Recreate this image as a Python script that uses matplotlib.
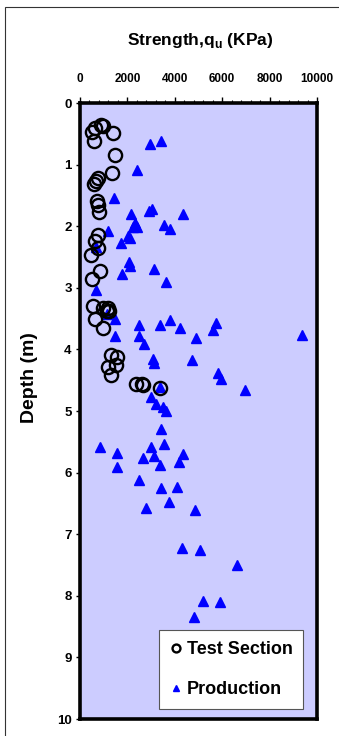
import matplotlib
matplotlib.use("Agg")
import matplotlib.pyplot as plt
from matplotlib.ticker import MultipleLocator
from matplotlib.patches import Rectangle

plt.rcParams['font.family'] = ['Liberation Sans', 'DejaVu Sans']
plt.rcParams['font.weight'] = 'bold'
plt.rcParams['mathtext.fontset'] = 'custom'
plt.rcParams['mathtext.bf'] = 'Liberation Sans:bold'
plt.rcParams['mathtext.rm'] = 'Liberation Sans:bold'

# test section: strength (kPa), depth (m)
test_q = [491, 632, 983, 900, 1376, 604, 1474, 1334, 744, 674, 604, 730, 772, 800,
          772, 632, 772, 449, 842, 519, 562, 955, 1193, 1123, 1235, 632, 983,
          1292, 1544, 1516, 1193, 1292, 2359, 2597, 2668, 3370]
test_z = [0.47, 0.41, 0.38, 0.36, 0.49, 0.61, 0.84, 1.14, 1.22, 1.27, 1.32, 1.59, 1.65, 1.77,
          2.14, 2.24, 2.35, 2.46, 2.73, 2.85, 3.30, 3.32, 3.32, 3.38, 3.38, 3.50, 3.66,
          4.09, 4.12, 4.25, 4.29, 4.42, 4.56, 4.56, 4.58, 4.62]

# production
prod_q = [2948, 3398, 2387, 1446, 2148, 2920, 3047, 4352, 2317, 2359, 2415, 2246, 1193,
          3538, 3791, 2036, 2106, 1727, 674, 2078, 2106, 1783, 3131, 3637, 674,
          1123, 1474, 2471, 3370, 3791, 4240, 5616, 5756, 4914, 1474, 2471, 9378, 2696,
          3089, 3103, 4717, 5826, 5967, 6964, 3370, 3005, 3187, 3482, 3622, 3412, 3524,
          856, 3005, 1572, 3117, 2668, 4352, 4184, 1544, 3370, 2499, 3398, 4100, 3735,
          2766, 4844, 4310, 5054, 6641, 5195, 5897, 4830]
prod_z = [0.66, 0.61, 1.08, 1.54, 1.80, 1.75, 1.72, 1.80, 1.94, 2.00, 2.01, 2.02, 2.07,
          1.98, 2.04, 2.16, 2.19, 2.28, 2.34, 2.58, 2.65, 2.78, 2.70, 2.91, 3.03,
          3.43, 3.50, 3.61, 3.61, 3.52, 3.66, 3.68, 3.57, 3.81, 3.78, 3.78, 3.76, 3.92,
          4.16, 4.22, 4.17, 4.38, 4.48, 4.66, 4.61, 4.78, 4.89, 4.93, 5.00, 5.29, 5.53,
          5.58, 5.58, 5.68, 5.73, 5.76, 5.70, 5.83, 5.91, 5.88, 6.12, 6.25, 6.24, 6.48,
          6.57, 6.60, 7.23, 7.26, 7.50, 8.08, 8.10, 8.34]

W, H = 339, 736
fig = plt.figure(figsize=(W / 100, H / 100), dpi=100, facecolor='white')
ax = fig.add_axes([80 / W, 1 - 719 / H, 237 / W, 616 / H])
ax.set_facecolor('#CCCCFF')

ax.plot(prod_q, prod_z, linestyle='none', marker='^', ms=7, color='#0000FF',
        mec='#0000FF', label='Production', zorder=3)
ax.plot(test_q, test_z, linestyle='none', marker='o', ms=9.5, mfc='none', mec='black',
        mew=1.7, label='Test Section', zorder=4)

ax.set_xlim(0, 10000)
ax.set_ylim(10, 0)
ax.xaxis.tick_top()
ax.xaxis.set_major_locator(MultipleLocator(2000))
ax.xaxis.set_minor_locator(MultipleLocator(400))
ax.yaxis.set_major_locator(MultipleLocator(1))
ax.tick_params(axis='x', which='major', direction='out', length=4, width=1, labelsize=8.5, pad=9)
ax.tick_params(axis='x', which='minor', direction='out', length=2.5, width=0.8)
ax.tick_params(axis='y', which='major', direction='out', length=3, width=1, labelsize=9.5, pad=3)
for lab in ax.get_xticklabels() + ax.get_yticklabels():
    lab.set_fontweight('bold')
for sp in ax.spines.values():
    sp.set_linewidth(2.6)
    sp.set_color('black')

h, l = ax.get_legend_handles_labels()
leg = ax.legend(h[::-1], l[::-1], loc='lower right', bbox_to_anchor=(0.942, 0.016),
                borderaxespad=0, fontsize=13, frameon=True, fancybox=False,
                edgecolor='#555555', facecolor='white', framealpha=1, handletextpad=0.3,
                borderpad=0.6, labelspacing=1.3, handlelength=0.6, markerscale=0.6)
leg.get_frame().set_linewidth(0.8)
for t in leg.get_texts():
    t.set_fontweight('bold')

fig.text(200 / W, 1 - 40 / H, 'Strength,q$_{\\mathbf{u}}$ (KPa)', ha='center', va='center',
         fontsize=12.5, fontweight='bold')
fig.text(30 / W, 1 - 378 / H, 'Depth (m)', ha='center', va='center', rotation=90,
         fontsize=14, fontweight='bold')

fig.patches.append(Rectangle((5 / W, -0.1), 1.2, 1 - 7 / H + 0.1, transform=fig.transFigure,
                             fill=False, edgecolor='#333333', linewidth=0.8))

fig.savefig('out.png', dpi=100, facecolor='white')
